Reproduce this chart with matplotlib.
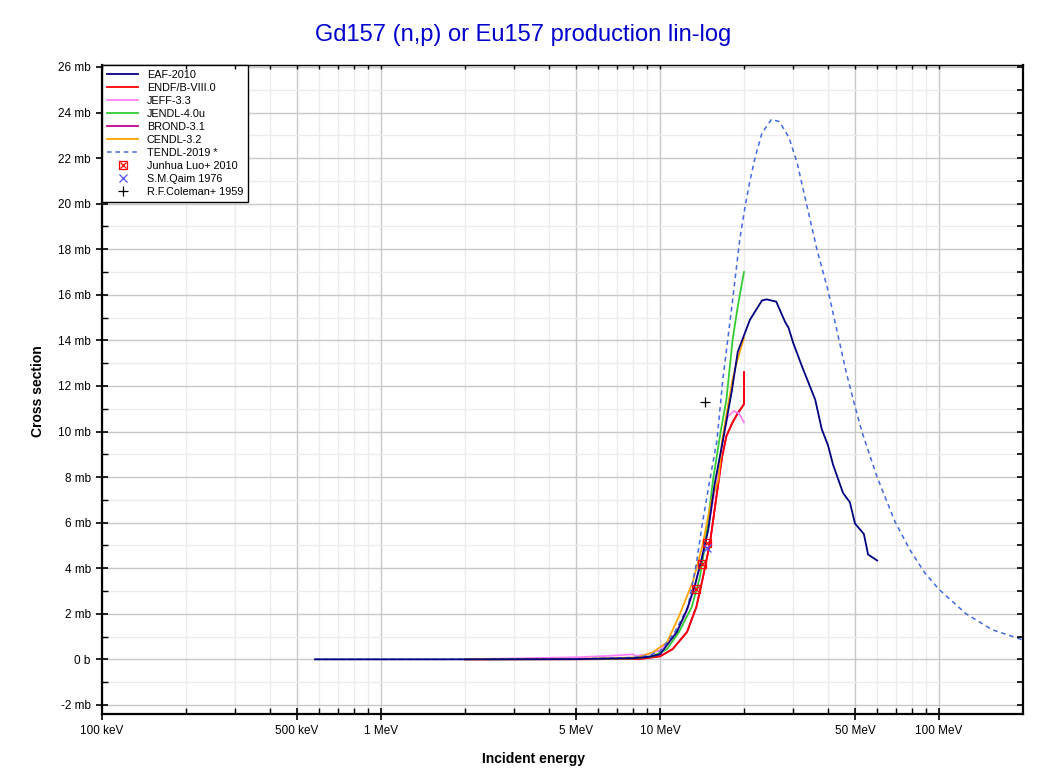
import matplotlib.pyplot as plt
import numpy as np
from matplotlib.ticker import FixedLocator, FuncFormatter, MultipleLocator, NullFormatter
from matplotlib.legend_handler import HandlerTuple

plt.rcParams['font.family'] = ['Liberation Sans', 'DejaVu Sans']

# energies in MeV, cross sections in mb
eaf_e = [0.58, 1, 2, 5, 8, 9, 10, 11.5, 12.5, 13.3, 14.1, 14.9, 15.7, 16.8, 18.1, 19.0,
         21.0, 23.2, 24.1, 26.1, 28.1, 28.9, 30.0, 32.3, 36.0, 38.0, 40.0, 41.7, 45.3,
         47.9, 50.0, 53.8, 55.7, 60.0]
eaf_xs = [0, 0, 0.001, 0.01, 0.05, 0.1, 0.22, 1.2, 2.2, 3.2, 4.4, 5.7, 7.7, 9.6, 11.8, 13.5,
          14.9, 15.75, 15.8, 15.7, 14.8, 14.55, 13.9, 12.85, 11.4, 10.1, 9.4, 8.55, 7.3,
          6.9, 5.96, 5.5, 4.6, 4.34]

endf_e = [2, 5, 8, 8.5, 10, 11.1, 12.5, 13.5, 14.2, 15.1, 16.0, 16.7, 17.3, 18.2, 19.0, 20.0, 20.0]
endf_xs = [0.001, 0.005, 0.015, 0.02, 0.13, 0.45, 1.2, 2.3, 3.5, 5.1, 7.3, 8.9, 9.8, 10.4, 10.8, 11.2, 12.6]

jeff_e = [2, 5, 6.5, 8.0, 8.2, 9.0, 10, 11.0, 12.3, 13.3, 14.2, 15.2, 16.2, 17.0, 17.5, 18.4, 19.2, 20.0]
jeff_xs = [0.002, 0.09, 0.15, 0.22, 0.15, 0.22, 0.4, 0.9, 1.9, 3.1, 4.6, 6.4, 8.3, 10.0, 10.65, 10.9, 10.8, 10.4]

jendl_e = [2, 5, 8, 9.4, 10.6, 11.7, 13.0, 13.9, 14.5, 15.5, 16.5, 17.3, 18.2, 19.0, 20.0]
jendl_xs = [0.001, 0.008, 0.04, 0.13, 0.45, 1.2, 2.3, 3.6, 5.0, 7.9, 10.0, 11.4, 14.0, 15.5, 17.0]

cendl_e = [2, 5, 8, 8.5, 9.4, 10.6, 11.7, 13.1, 14.2, 15.3, 16.2, 16.7, 17.5, 18.2, 19.0, 20.0]
cendl_xs = [0.002, 0.02, 0.08, 0.12, 0.3, 0.75, 1.9, 3.4, 5.0, 7.0, 7.9, 9.6, 11.1, 12.3, 13.2, 14.1]

tendl_e = [0.58, 1, 2, 5, 8, 9, 10, 11.3, 12.6, 13.5, 14.2, 15.1, 16.0, 16.8, 18.1, 19.3,
           20.2, 21.0, 21.9, 23.2, 25.1, 26.8, 29.0, 31.0, 33.2, 36.5, 40.0, 43.3, 46.5,
           50.0, 52.9, 60.0, 69.5, 78.7, 88.9, 100, 125, 155, 200]
tendl_xs = [0, 0, 0.001, 0.02, 0.08, 0.15, 0.35, 1.2, 2.3, 4.2, 6.0, 7.9, 9.6, 12.3, 15.5, 18.4,
            19.9, 21.0, 22.0, 23.1, 23.7, 23.6, 22.9, 21.8, 20.2, 18.0, 16.2, 14.3, 12.6,
            11.1, 10.0, 8.0, 6.05, 4.8, 3.8, 3.07, 2.0, 1.3, 0.85]

luo_e = [13.5, 14.2, 14.8]
luo_xs = [3.1, 4.2, 5.1]
qaim_e = [14.7]
qaim_xs = [4.9]
coleman_e = [14.5]
coleman_xs = [11.3]

major_x = [0.1, 0.5, 1, 5, 10, 50, 100]
major_lbl = ['100 keV', '500 keV', '1 MeV', '5 MeV', '10 MeV', '50 MeV', '100 MeV']

fig = plt.figure(figsize=(10.46, 7.72), dpi=100)
ax = fig.add_axes([0.0975, 0.0751, 0.8805, 0.8411])

h_eaf, = ax.plot(eaf_e, eaf_xs, color='#000080', lw=1.3, label='EAF-2010', zorder=5)
h_brond, = ax.plot(endf_e, endf_xs, color='#c0008f', lw=1.3, label='BROND-3.1', zorder=3)
h_endf, = ax.plot(endf_e, endf_xs, color='#ff0000', lw=1.3, label='ENDF/B-VIII.0', zorder=4)
h_jeff, = ax.plot(jeff_e, jeff_xs, color='#ff80ff', lw=1.3, label='JEFF-3.3', zorder=4)
h_jendl, = ax.plot(jendl_e, jendl_xs, color='#33cc33', lw=1.3, label='JENDL-4.0u', zorder=4)
h_cendl, = ax.plot(cendl_e, cendl_xs, color='#ffa500', lw=1.3, label='CENDL-3.2', zorder=4)
h_tendl, = ax.plot(tendl_e, tendl_xs, color='#4169e1', lw=1.1, ls=(0, (3, 2.5)),
                   label='TENDL-2019 *', zorder=4)

h_luo1, = ax.plot(luo_e, luo_xs, ls='none', marker='s', ms=6, mfc='none', mec='#ff0000', mew=0.9, zorder=6)
h_luo2, = ax.plot(luo_e, luo_xs, ls='none', marker='x', ms=5, mec='#ff0000', mew=0.9, zorder=6)
h_qaim, = ax.plot(qaim_e, qaim_xs, ls='none', marker='x', ms=6, mec='#5050ff', mew=0.9, zorder=6)
h_cole, = ax.plot(coleman_e, coleman_xs, ls='none', marker='+', ms=7, mec='black', mew=0.9, zorder=6)

ax.set_xscale('log')
ax.set_xlim(0.1, 200)
ax.set_ylim(-2.4, 26.1)


def setup_x(a):
    a.xaxis.set_major_locator(FixedLocator(major_x))
    a.xaxis.set_minor_locator(FixedLocator(
        [v * d for d in (0.1, 1, 10, 100) for v in range(2, 10) if v * d < 200 and v not in (5,)]))
    a.xaxis.set_minor_formatter(NullFormatter())


setup_x(ax)
ax.set_xticklabels(major_lbl)
ax.yaxis.set_major_locator(MultipleLocator(2))
ax.yaxis.set_minor_locator(MultipleLocator(1))
ax.yaxis.set_major_formatter(FuncFormatter(lambda v, p: '0 b' if abs(v) < 1e-9 else '%d mb' % round(v)))

ax.grid(which='major', color='#c8c8c8', lw=1.0)
ax.grid(which='minor', color='#ececec', lw=1.0)
ax.set_axisbelow(True)

ax.tick_params(which='major', direction='inout', length=9, width=1.2, labelsize=8.5)
ax.tick_params(which='minor', direction='in', length=4, width=1.0)
for side in ('left', 'bottom', 'right'):
    ax.spines[side].set_linewidth(1.6)
ax.spines['top'].set_linewidth(1.0)

# inward ticks on the right and top edges
axr = ax.twinx()
axr.set_ylim(ax.get_ylim())
axr.yaxis.set_major_locator(MultipleLocator(2))
axr.yaxis.set_minor_locator(MultipleLocator(1))
axr.tick_params(which='both', direction='in', length=4, width=1.2, labelright=False)
axr.set_frame_on(False)
axt = ax.twiny()
axt.set_xscale('log')
axt.set_xlim(ax.get_xlim())
setup_x(axt)
axt.tick_params(which='both', direction='in', length=3, width=1.0, labeltop=False)
axt.set_frame_on(False)

# title and axis labels are placed relative to the figure, like the original
fig.text(0.5, 0.955, 'Gd157 (n,p) or Eu157 production lin-log', color='#0000cc',
         fontsize=17, ha='center', va='center')
fig.text(0.51, 0.017, 'Incident energy', fontsize=10, fontweight='bold', ha='center', va='center')
fig.text(0.036, 0.493, 'Cross section', fontsize=10, fontweight='bold', ha='center', va='center',
         rotation=90)

handles = [h_eaf, h_endf, h_jeff, h_jendl, h_brond, h_cendl, h_tendl, (h_luo1, h_luo2), h_qaim, h_cole]
labels = ['EAF-2010', 'ENDF/B-VIII.0', 'JEFF-3.3', 'JENDL-4.0u', 'BROND-3.1', 'CENDL-3.2',
          'TENDL-2019 *', 'Junhua Luo+ 2010', 'S.M.Qaim 1976', 'R.F.Coleman+ 1959']
leg = ax.legend(handles, labels, loc='upper left', fontsize=7.8, borderaxespad=0,
                fancybox=False, edgecolor='black', framealpha=1, labelspacing=0.28,
                handlelength=2.9, borderpad=0.45,
                handler_map={tuple: HandlerTuple(ndivide=1)})
leg.get_frame().set_linewidth(1.0)
leg.set_zorder(10)

fig.savefig('out.png', dpi=100)
